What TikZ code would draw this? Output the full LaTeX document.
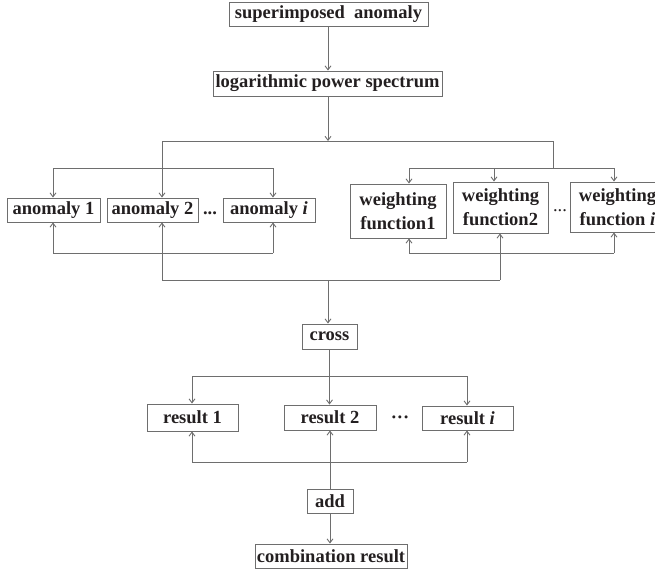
\documentclass[tikz,border=0pt]{standalone}
\usepackage{fontspec}
\setmainfont{Liberation Serif}
\usetikzlibrary{arrows.meta, calc}
\definecolor{lncol}{HTML}{6E6E6E}
\definecolor{txtcol}{HTML}{231F20}
\tikzset{
  box/.style={rectangle, draw=lncol, line width=0.9pt, inner sep=1pt,
              minimum height=24pt, text=txtcol,
              font=\fontsize{18.5pt}{24pt}\selectfont\bfseries},
  wbox/.style={box, align=center, minimum width=95pt, minimum height=51pt},
  dts/.style={inner sep=0pt, text=txtcol,
              font=\fontsize{18.5pt}{24pt}\selectfont\bfseries},
  ln/.style={draw=lncol, line width=0.9pt},
  arc/.style={ln, -{Straight Barb[length=4pt,width=6pt]}}
}
\begin{document}
\begin{tikzpicture}[x=1pt, y=-1pt]
  \useasboundingbox (0,0) rectangle (655,574);
  % boxes
  \node[box, minimum width=199pt] (sup) at (328.5,14) {superimposed\ \ anomaly};
  \node[box, minimum width=229pt, minimum height=25pt] (log) at (327.5,83.5) {logarithmic power spectrum};
  \node[box, minimum width=93pt] (a1) at (53.5,210) {anomaly 1};
  \node[box, minimum width=91pt] (a2) at (152.5,210) {anomaly 2};
  \node[box, minimum width=92pt] (ai) at (269,210) {anomaly \textit{i}};
  \node[dts] (d1) at (210,213) {...};
  \node[wbox, minimum width=96pt, minimum height=54pt] (wf1) at (398,211) {weighting\\function1};
  \node[wbox] (wf2) at (500.5,207.5) {weighting\\function2};
  \node[wbox, minimum height=50pt] (wfi) at (617.5,207) {weighting\\function \textit{i}};
  \node[dts, font=\fontsize{18.5pt}{24pt}\selectfont] (d2) at (560,211) {...};
  \node[box, minimum width=55pt, minimum height=25pt] (cross) at (329.5,336.5) {cross};
  \node[box, minimum width=91pt, minimum height=27pt] (r1) at (192.5,417.5) {result 1};
  \node[box, minimum width=92pt, minimum height=25pt] (r2) at (330,417.5) {result 2};
  \node[box, minimum width=91pt] (ri) at (467.5,418) {result \textit{i}};
  \node[dts, anchor=base] (d3) at (400,423) {···};
  \node[box, minimum width=46pt] (add) at (330,501) {add};
  \node[box, minimum width=152pt] (comb) at (331,556) {combination result};
  % junctions
  \coordinate (j0) at (328,141);
  \coordinate (jl) at (162,141);
  \coordinate (jr) at (553,141);
  \coordinate (al) at (53,168);  \coordinate (ar) at (273,168);
  \coordinate (wj) at (553,168);
  \coordinate (wl) at (409,168); \coordinate (wm) at (494,168); \coordinate (wr) at (614,168);
  \coordinate (bl) at (53,253);  \coordinate (br) at (273,253);
  \coordinate (vl) at (409,253); \coordinate (vr) at (614,253);
  \coordinate (cl) at (162,280); \coordinate (cm) at (328,280); \coordinate (cr) at (500,280);
  \coordinate (rl) at (192,376); \coordinate (rr) at (467,376);
  \coordinate (sl) at (192,462); \coordinate (sr) at (467,462);
  % connectors
  \draw[arc] (sup.south -| j0) -- (j0 |- log.north);
  \draw[arc] (log.south -| j0) -- (j0);
  \draw[ln] (jl) -- (jr);
  \draw[arc] (jl) -- (jl |- a2.north);
  \draw[ln] (al) -- (ar);
  \draw[ln] (jr) -- (wj);
  \draw[ln] (wl) -- (wr);
  \foreach \c/\n in {al/a1, ar/ai, wl/wf1, wm/wf2, wr/wfi}
    \draw[arc] (\c) -- (\c |- \n.north);
  \draw[ln] (bl) -- (br);
  \draw[ln] (vl) -- (vr);
  \draw[ln] (cl) -- (cr);
  \foreach \c/\n in {bl/a1, br/ai, vl/wf1, vr/wfi, cl/a2, cr/wf2}
    \draw[arc] (\c) -- (\c |- \n.south);
  \draw[arc] (cm) -- (cm |- cross.north);
  \draw[arc] (cross.south) -- (cross.south |- r2.north);
  \draw[ln] (rl) -- (rr);
  \draw[ln] (sl) -- (sr);
  \foreach \c/\n in {rl/r1, rr/ri}
    \draw[arc] (\c) -- (\c |- \n.north);
  \foreach \c/\n in {sl/r1, sr/ri}
    \draw[arc] (\c) -- (\c |- \n.south);
  \draw[arc] (add.north) -- (add.north |- r2.south);
  \draw[arc] (add.south) -- (add.south |- comb.north);
\end{tikzpicture}
\end{document}
